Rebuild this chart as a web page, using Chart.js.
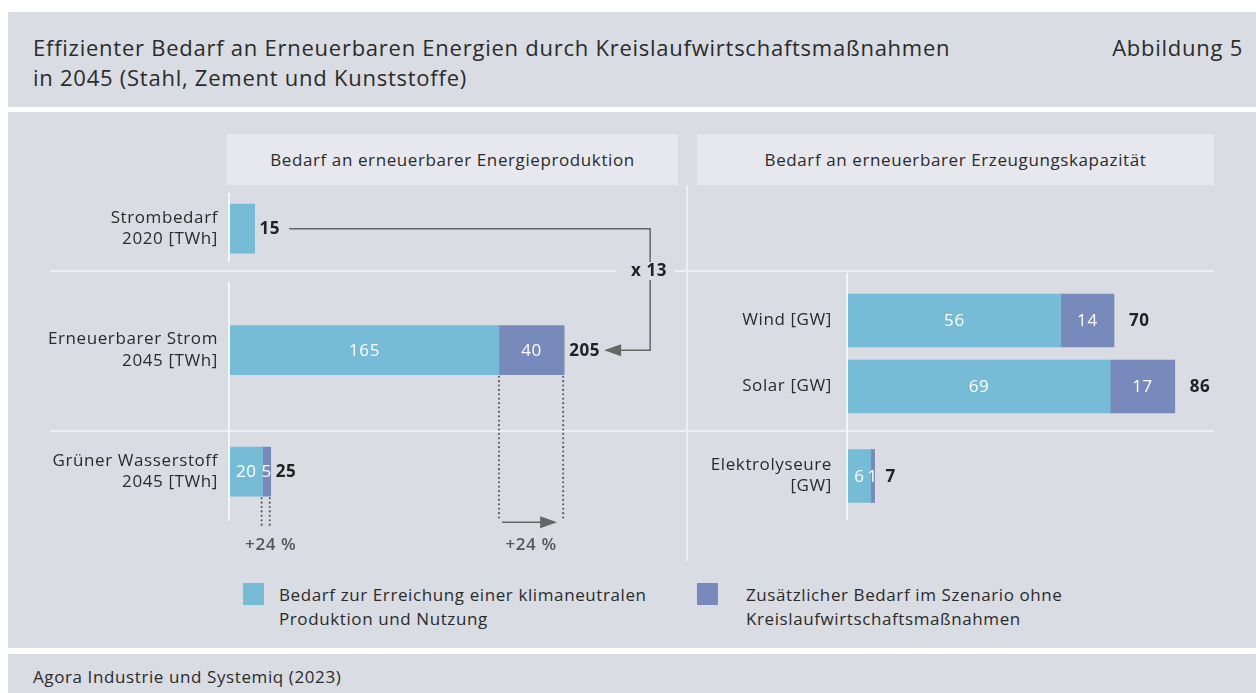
<!DOCTYPE html>
<html lang="de">
<head>
<meta charset="utf-8">
<title>Abbildung 5</title>
<script src="https://cdn.jsdelivr.net/npm/chart.js@4.4.0/dist/chart.umd.min.js"></script>
<style>
  body { margin: 0; width: 1256px; height: 693px; position: relative; overflow: hidden;
         background: #fff; font-family: "Open Sans", sans-serif; color: #2b2b2b; letter-spacing: 0.6px; }
  .box { position: absolute; left: 8px; right: 0; background: #d9dce3; }
  #header { top: 12px; height: 95px; }
  #main { top: 112px; height: 536px; }
  #footer { top: 654px; height: 39px; }
  .abs { position: absolute; }
  #title { left: 33px; top: 32px; font-size: 22px; line-height: 30px; letter-spacing: 0.75px; }
  #figno { right: 13px; top: 32px; font-size: 22px; line-height: 30px; letter-spacing: 0.75px; }
  #source { left: 33px; top: 665px; font-size: 17px; line-height: 24px; }
  .panelTitle { position: absolute; top: 134px; height: 51px; line-height: 51px; background: #e6e8ed;
                text-align: center; font-size: 17px; }
  .sepH { position: absolute; left: 50px; width: 1164px; height: 2px; background: #eceef2; }
  #sepV { position: absolute; left: 686px; top: 185px; width: 2px; height: 376px; background: #eceef2; }
  canvas { position: absolute; }
  .legItem { position: absolute; top: 583px; font-size: 17px; line-height: 24px; }
  .legItem span { position: absolute; left: 0; top: 0; width: 21px; height: 22px; }
  .legItem div { margin-left: 36px; margin-top: 0; }
</style>
</head>
<body>
<div id="header" class="box"></div>
<div id="main" class="box"></div>
<div id="footer" class="box"></div>

<div id="title" class="abs">Effizienter Bedarf an Erneuerbaren Energien durch Kreislaufwirtschaftsmaßnahmen<br>in 2045 (Stahl, Zement und Kunststoffe)</div>
<div id="figno" class="abs">Abbildung 5</div>
<div id="source" class="abs">Agora Industrie und Systemiq (2023)</div>

<div class="panelTitle" style="left:227px;width:451px;">Bedarf an erneuerbarer Energieproduktion</div>
<div class="panelTitle" style="left:697px;width:517px;">Bedarf an erneuerbarer Erzeugungskapazität</div>
<div id="sep1" class="sepH"></div>
<div id="sep2" class="sepH"></div>
<div id="sepV"></div>

<canvas id="leftChart" width="684" height="410" style="left:0;top:150px;"></canvas>
<canvas id="rightTop" width="566" height="158" style="left:690px;top:273px;"></canvas>
<canvas id="rightBottom" width="566" height="94" style="left:690px;top:431px;"></canvas>

<div class="legItem" style="left:243px;"><span id="legA"></span><div id="legTextA"></div></div>
<div class="legItem" style="left:697px;"><span id="legB"></span><div id="legTextB" style="margin-left:49px"></div></div>

<script>
// --- data ---
const leftLabels = [['Strombedarf', '2020 [TWh]'], ['Erneuerbarer Strom', '2045 [TWh]'], ['Grüner Wasserstoff', '2045 [TWh]']];
const leftBase = [15, 165, 20];
const leftExtra = [0, 40, 5];

const windSolarLabels = ['Wind [GW]', 'Solar [GW]'];
const windSolarBase = [56, 69];
const windSolarExtra = [14, 17];

const electroLabels = [['Elektrolyseure', '[GW]']];
const electroBase = [6];
const electroExtra = [1];

const seriesNames = ['Bedarf zur Erreichung einer klimaneutralen<br>Produktion und Nutzung',
                     'Zusätzlicher Bedarf im Szenario ohne<br>Kreislaufwirtschaftsmaßnahmen'];
const factorText = 'x 13';
const growthText = '+24 %';

// --- look ---
const BLUE = '#77bcd6';
const PURPLE = '#7889bb';
const PANEL_BG = '#d9dce3';
const AXIS_LINE = '#f4f5f8';
const FONT = '"Open Sans", sans-serif';
const LETTER = '0.6px';
const LEFT_TOP = 150;
const SEP_Y = [270, 430];

document.getElementById('sep1').style.top = SEP_Y[0] + 'px';
document.getElementById('sep2').style.top = SEP_Y[1] + 'px';
document.getElementById('legA').style.background = BLUE;
document.getElementById('legB').style.background = PURPLE;
document.getElementById('legTextA').innerHTML = seriesNames[0];
document.getElementById('legTextB').innerHTML = seriesNames[1];

function arrowHead(ctx, tipX, y, dir) {
    ctx.beginPath();
    ctx.moveTo(tipX, y);
    ctx.lineTo(tipX - dir * 17, y - 6);
    ctx.lineTo(tipX - dir * 17, y + 6);
    ctx.closePath();
    ctx.fill();
}

function dotted(ctx, x, y1, y2) {
    ctx.save();
    ctx.setLineDash([0.1, 4.3]);
    ctx.lineCap = 'round';
    ctx.lineWidth = 2;
    ctx.strokeStyle = '#555';
    ctx.beginPath();
    ctx.moveTo(x, y1);
    ctx.lineTo(x, y2);
    ctx.stroke();
    ctx.restore();
}

// wider tracking for all canvas text, like the DIN-style original
const tracking = {
    id: 'tracking',
    beforeDraw(chart) {
        chart.ctx.letterSpacing = LETTER;
    }
};

// numbers inside and next to the bars
const valueLabels = {
    id: 'valueLabels',
    afterDatasetsDraw(chart, args, opts) {
        const ctx = chart.ctx;
        const ds = chart.data.datasets;
        const base = chart.getDatasetMeta(0).data;
        const extra = chart.getDatasetMeta(1).data;
        ctx.save();
        ctx.letterSpacing = LETTER;
        ctx.textBaseline = 'middle';
        base.forEach(function (bar, i) {
            const ex = extra[i];
            if (ds[1].data[i] > 0) {
                ctx.fillStyle = '#fff';
                ctx.font = '17px ' + FONT;
                ctx.textAlign = 'center';
                ctx.fillText(ds[0].data[i], (bar.x + bar.base) / 2, bar.y + 1);
                ctx.fillText(ds[1].data[i], (ex.x + ex.base) / 2, ex.y + 1);
            }
            ctx.fillStyle = '#222';
            ctx.font = 'bold 17px ' + FONT;
            ctx.textAlign = 'left';
            ctx.fillText(ds[0].data[i] + ds[1].data[i], ex.x + opts.gap, bar.y + 1);
        });
        ctx.restore();
    }
};

// white axis line segments
const axisLine = {
    id: 'axisLine',
    beforeDatasetsDraw(chart, args, opts) {
        const ctx = chart.ctx;
        const x = chart.chartArea.left - 1;
        ctx.save();
        ctx.strokeStyle = AXIS_LINE;
        ctx.lineWidth = 2;
        opts.segments(chart).forEach(function (s) {
            ctx.beginPath();
            ctx.moveTo(x, s[0]);
            ctx.lineTo(x, s[1]);
            ctx.stroke();
        });
        ctx.restore();
    }
};

// connector arrow, factor and growth markers of the left panel
const leftNotes = {
    id: 'leftNotes',
    afterDatasetsDraw(chart) {
        const ctx = chart.ctx;
        const ds = chart.data.datasets;
        const base = chart.getDatasetMeta(0).data;
        const extra = chart.getDatasetMeta(1).data;
        const gap = 5;
        ctx.save();
        ctx.letterSpacing = LETTER;
        ctx.font = 'bold 17px ' + FONT;
        const wFirst = ctx.measureText(String(ds[0].data[0] + ds[1].data[0])).width;
        const wSecond = ctx.measureText(String(ds[0].data[1] + ds[1].data[1])).width;
        const yA = base[0].y, yB = base[1].y;
        const xStart = extra[0].x + gap + wFirst + 9;
        const tip = extra[1].x + gap + wSecond + 4;
        const xc = extra[1].x + 86;
        const yMark = SEP_Y[0] + 1 - LEFT_TOP;

        ctx.strokeStyle = '#666';
        ctx.fillStyle = '#666';
        ctx.lineWidth = 1.5;
        ctx.beginPath();
        ctx.moveTo(xStart, yA);
        ctx.lineTo(xc, yA);
        ctx.lineTo(xc, yB);
        ctx.lineTo(tip + 10, yB);
        ctx.stroke();
        arrowHead(ctx, tip, yB, -1);

        // factor label over the line
        ctx.fillStyle = PANEL_BG;
        ctx.fillRect(xc - 34, yMark - 9, 58, 18);
        ctx.fillStyle = '#222';
        ctx.textAlign = 'center';
        ctx.textBaseline = 'middle';
        ctx.fillText(factorText, xc - 1, yMark);

        // growth markers under the stacked bars
        const lastBottom = base[2].y + base[2].height / 2;
        [1, 2].forEach(function (i) {
            const b = base[i], e = extra[i];
            const top = b.y + b.height / 2 + 2;
            const x1 = b.x, x2 = e.x - 1;
            if (i === 1) {
                const yEnd = lastBottom + 24;
                dotted(ctx, x1, top, yEnd);
                dotted(ctx, x2, top, yEnd);
                ctx.strokeStyle = '#666';
                ctx.fillStyle = '#666';
                ctx.lineWidth = 1.5;
                ctx.beginPath();
                ctx.moveTo(x1 + 3, yEnd + 2);
                ctx.lineTo(x2 - 12, yEnd + 2);
                ctx.stroke();
                arrowHead(ctx, x2 - 6, yEnd + 2, 1);
            } else {
                dotted(ctx, x1 - 1, top, top + 27);
                dotted(ctx, x2, top, top + 27);
            }
            ctx.fillStyle = '#555';
            ctx.font = '600 17px ' + FONT;
            ctx.textAlign = 'center';
            ctx.textBaseline = 'middle';
            ctx.fillText(growthText, i === 1 ? (x1 + x2) / 2 : x2 + 1, lastBottom + 49);
        });
        ctx.restore();
    }
};

function barOptions(axisWidth, tickPad, xMax, padding, thickness, segments, gap) {
    return {
        indexAxis: 'y',
        responsive: false,
        animation: false,
        events: [],
        layout: { padding: padding },
        datasets: { bar: { barThickness: thickness, borderWidth: 0 } },
        plugins: {
            legend: { display: false },
            tooltip: { enabled: false },
            valueLabels: { gap: gap },
            axisLine: { segments: segments }
        },
        scales: {
            x: { stacked: true, display: false, min: 0, max: xMax },
            y: {
                stacked: true,
                grid: { display: false, drawTicks: false },
                border: { display: false },
                ticks: { padding: tickPad, color: '#2b2b2b', font: { family: FONT, size: 17, lineHeight: 1.25 } },
                afterFit: function (scale) {
                    scale.width = axisWidth;
                    scale.paddingTop = 0;
                    scale.paddingBottom = 0;
                }
            }
        }
    };
}

function datasets(baseValues, extraValues) {
    return [
        { data: baseValues, backgroundColor: BLUE },
        { data: extraValues, backgroundColor: PURPLE }
    ];
}

new Chart(document.getElementById('leftChart'), {
    type: 'bar',
    data: { labels: leftLabels, datasets: datasets(leftBase, leftExtra) },
    options: barOptions(230, 12, 250, { top: 17.9, bottom: 27.6, right: 46.5, left: 0 }, 49,
        function (chart) {
            const bars = chart.getDatasetMeta(0).data;
            return [[bars[0].y - 36, SEP_Y[0] - 8 - LEFT_TOP], [SEP_Y[0] + 12 - LEFT_TOP, bars[2].y + 49]];
        }, 5),
    plugins: [tracking, axisLine, valueLabels, leftNotes]
});

new Chart(document.getElementById('rightTop'), {
    type: 'bar',
    data: { labels: windSolarLabels, datasets: datasets(windSolarBase, windSolarExtra) },
    options: barOptions(158, 16, 100, { top: 14.5, bottom: 11.5, right: 28, left: 0 }, 53,
        function (chart) { return [[0, chart.height]]; }, 15),
    plugins: [tracking, axisLine, valueLabels]
});

new Chart(document.getElementById('rightBottom'), {
    type: 'bar',
    data: { labels: electroLabels, datasets: datasets(electroBase, electroExtra) },
    options: barOptions(158, 16, 100, { top: 15, bottom: 19, right: 28, left: 0 }, 53,
        function (chart) { return [[0, chart.getDatasetMeta(0).data[0].y + 44]]; }, 11),
    plugins: [tracking, axisLine, valueLabels]
});
</script>
</body>
</html>
